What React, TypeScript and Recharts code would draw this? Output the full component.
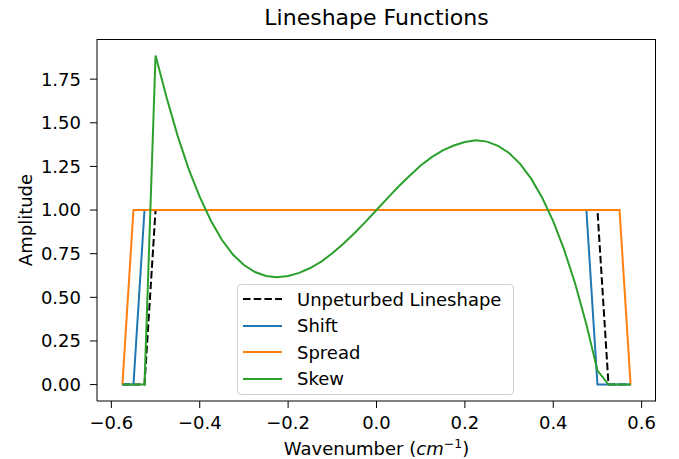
import { LineChart, Line, XAxis, YAxis, Legend } from "recharts";

// sample grid (cm^-1)
const wavenumber = [
  -0.575, -0.55, -0.525, -0.5, -0.475, -0.45, -0.425, -0.4, -0.375, -0.35, -0.325, -0.3,
  -0.275, -0.25, -0.225, -0.2, -0.175, -0.15, -0.125, -0.1, -0.075, -0.05, -0.025, 0,
  0.025, 0.05, 0.075, 0.1, 0.125, 0.15, 0.175, 0.2, 0.225, 0.25, 0.275, 0.3, 0.325, 0.35,
  0.375, 0.4, 0.425, 0.45, 0.475, 0.5, 0.525, 0.55, 0.575,
];

const unperturbed = [
  0, 0, 0, 1, 1, 1, 1, 1, 1, 1, 1, 1,
  1, 1, 1, 1, 1, 1, 1, 1, 1, 1, 1, 1,
  1, 1, 1, 1, 1, 1, 1, 1, 1, 1, 1, 1, 1, 1,
  1, 1, 1, 1, 1, 1, 0, 0, 0,
];

const shift = [
  0, 0, 1, 1, 1, 1, 1, 1, 1, 1, 1, 1,
  1, 1, 1, 1, 1, 1, 1, 1, 1, 1, 1, 1,
  1, 1, 1, 1, 1, 1, 1, 1, 1, 1, 1, 1, 1, 1,
  1, 1, 1, 1, 1, 0, 0, 0, 0,
];

const spread = [
  0, 1, 1, 1, 1, 1, 1, 1, 1, 1, 1, 1,
  1, 1, 1, 1, 1, 1, 1, 1, 1, 1, 1, 1,
  1, 1, 1, 1, 1, 1, 1, 1, 1, 1, 1, 1, 1, 1,
  1, 1, 1, 1, 1, 1, 1, 1, 0,
];

const skew = [
  0, 0, 0, 1.885, 1.645, 1.425, 1.235, 1.075, 0.94, 0.83, 0.745, 0.685,
  0.645, 0.622, 0.615, 0.622, 0.64, 0.668, 0.705, 0.752, 0.807, 0.867, 0.932, 1.0,
  1.068, 1.135, 1.197, 1.255, 1.303, 1.342, 1.37, 1.39, 1.4, 1.392, 1.368, 1.327, 1.265, 1.18,
  1.07, 0.935, 0.77, 0.575, 0.345, 0.08, 0, 0, 0,
];

const xTicks = [-0.6, -0.4, -0.2, 0, 0.2, 0.4, 0.6];
const yTicks = [0, 0.25, 0.5, 0.75, 1, 1.25, 1.5, 1.75];

const seriesOrder = ["Unpeturbed Lineshape", "Shift", "Spread", "Skew"];

const data = wavenumber.map((x, i) => ({
  x,
  unperturbed: unperturbed[i],
  shift: shift[i],
  spread: spread[i],
  skew: skew[i],
}));

const FONT = "'DejaVu Sans', sans-serif";
const X_DOMAIN = [-0.6325, 0.6325];
const Y_DOMAIN = [-0.094, 1.98];

const minus = (s: string) => s.replace("-", "\u2212");

const YLabel = (props: any) => {
  const vb = props.viewBox || {};
  const cx = 25;
  const cy = vb.height ? vb.y + vb.height / 2 : 220;
  return (
    <text
      x={cx}
      y={cy}
      transform={`rotate(-90 ${cx} ${cy})`}
      textAnchor="middle"
      dominantBaseline="central"
      fontFamily={FONT}
      fontSize={18}
      fill="#000"
    >
      Amplitude
    </text>
  );
};

const XLabel = (props: any) => {
  const vb = props.viewBox || {};
  const cx = vb.width ? vb.x + vb.width / 2 : 376;
  const y = vb.height ? vb.y + 54 : 455;
  return (
    <text x={cx} y={y} textAnchor="middle" fontFamily={FONT} fontSize={18} fill="#000">
      Wavenumber (
      <tspan fontStyle="italic">cm</tspan>
      <tspan fontSize={12.5} dy={-7}>{"\u22121"}</tspan>
      <tspan dy={7}>)</tspan>
    </text>
  );
};

const renderLegend = (props: any) => {
  const items = [...(props.payload || [])].sort(
    (a: any, b: any) => seriesOrder.indexOf(a.value) - seriesOrder.indexOf(b.value)
  );
  return (
    <div
      style={{
        boxSizing: "border-box",
        width: 277,
        height: 111,
        border: "1px solid #d0d0d0",
        borderRadius: 4,
        background: "rgba(255,255,255,0.8)",
        fontFamily: FONT,
        fontSize: 18,
        color: "#000",
        paddingTop: 1,
      }}
    >
      {items.map((it: any) => (
        <div key={it.value} style={{ display: "flex", alignItems: "center", height: 26.5 }}>
          <svg width={54} height={10} style={{ marginLeft: 5, flexShrink: 0 }}>
            <line
              x1={0}
              x2={39}
              y1={5}
              y2={5}
              stroke={it.color}
              strokeWidth={2}
              strokeDasharray={it.payload?.strokeDasharray}
            />
          </svg>
          <span style={{ whiteSpace: "nowrap" }}>{it.value}</span>
        </div>
      ))}
    </div>
  );
};

export default function App() {
  return (
    <div style={{ position: "absolute", left: 0, top: 0, width: 679, height: 459, background: "#fff" }}>
      <div
        style={{
          position: "absolute",
          left: 97,
          width: 559,
          top: 5,
          textAlign: "center",
          fontFamily: FONT,
          fontSize: 22,
          color: "#000",
        }}
      >
        Lineshape Functions
      </div>
      <LineChart width={679} height={459} data={data} margin={{ top: 39, right: 23, bottom: 0, left: 0 }}>
        <XAxis
          type="number"
          dataKey="x"
          domain={X_DOMAIN}
          ticks={xTicks}
          allowDataOverflow
          tickFormatter={(v: number) => minus(v.toFixed(1))}
          tick={{ fill: "#000", fontSize: 18, fontFamily: FONT }}
          tickLine={{ stroke: "#000" }}
          axisLine={{ stroke: "#000" }}
          tickSize={7}
          tickMargin={8}
          height={58}
          label={<XLabel />}
        />
        <YAxis
          type="number"
          domain={Y_DOMAIN}
          ticks={yTicks}
          allowDataOverflow
          tickFormatter={(v: number) => v.toFixed(2)}
          tick={{ fill: "#000", fontSize: 18, fontFamily: FONT }}
          tickLine={{ stroke: "#000" }}
          axisLine={{ stroke: "#000" }}
          tickSize={7}
          tickMargin={9}
          width={97}
          label={<YLabel />}
        />
        <Legend
          layout="vertical"
          verticalAlign="middle"
          align="center"
          wrapperStyle={{ left: 237, top: 284, width: 277, height: 111 }}
          content={renderLegend}
        />
        <Line
          type="linear"
          dataKey="unperturbed"
          name="Unpeturbed Lineshape"
          stroke="#000000"
          strokeWidth={2}
          strokeDasharray="7.5 3.2"
          dot={false}
          isAnimationActive={false}
        />
        <Line type="linear" dataKey="shift" name="Shift" stroke="#1f77b4" strokeWidth={2} dot={false} isAnimationActive={false} />
        <Line type="linear" dataKey="spread" name="Spread" stroke="#ff7f0e" strokeWidth={2} dot={false} isAnimationActive={false} />
        <Line type="linear" dataKey="skew" name="Skew" stroke="#2ca02c" strokeWidth={2} dot={false} isAnimationActive={false} />
      </LineChart>
      {/* top and right spines */}
      <div
        style={{
          position: "absolute",
          left: 97,
          top: 39,
          width: 559,
          height: 362,
          boxSizing: "border-box",
          borderTop: "1px solid #000",
          borderRight: "1px solid #000",
          pointerEvents: "none",
        }}
      />
    </div>
  );
}
